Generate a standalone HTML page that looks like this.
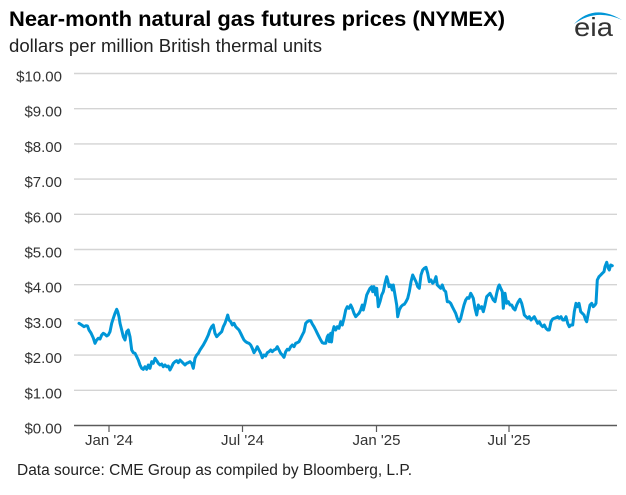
<!DOCTYPE html>
<html>
<head>
<meta charset="utf-8">
<style>
  html, body { margin: 0; padding: 0; background: #ffffff; }
  body { width: 626px; height: 495px; overflow: hidden; }
  svg { display: block; font-family: "Liberation Sans", Arial, sans-serif; }
</style>
</head>
<body>
<svg width="626" height="495" viewBox="0 0 626 495" xmlns="http://www.w3.org/2000/svg">
  <rect x="0" y="0" width="626" height="495" fill="#ffffff"/>

  <!-- Title -->
  <text x="9" y="26" font-size="21" font-weight="bold" fill="#000" textLength="496" lengthAdjust="spacingAndGlyphs">Near-month natural gas futures prices (NYMEX)</text>
  <text x="9" y="52" font-size="18.5" fill="#222" textLength="313" lengthAdjust="spacingAndGlyphs">dollars per million British thermal units</text>

  <!-- eia logo -->
  <path d="M574,24 Q594,3 622,20 Q596,8 574,24 Z" fill="#0096d7"/>
  <text x="574" y="36" font-size="26" fill="#333" textLength="39" lengthAdjust="spacingAndGlyphs">eia</text>

  <!-- Gridlines -->
  <g stroke="#d4d4d4" stroke-width="1.4">
    <line x1="74" y1="73.5" x2="617" y2="73.5"/>
    <line x1="74" y1="108.7" x2="617" y2="108.7"/>
    <line x1="74" y1="143.9" x2="617" y2="143.9"/>
    <line x1="74" y1="179.1" x2="617" y2="179.1"/>
    <line x1="74" y1="214.3" x2="617" y2="214.3"/>
    <line x1="74" y1="249.5" x2="617" y2="249.5"/>
    <line x1="74" y1="284.7" x2="617" y2="284.7"/>
    <line x1="74" y1="319.9" x2="617" y2="319.9"/>
    <line x1="74" y1="355.1" x2="617" y2="355.1"/>
    <line x1="74" y1="390.3" x2="617" y2="390.3"/>
  </g>
  <!-- Baseline -->
  <line x1="74" y1="425.5" x2="617" y2="425.5" stroke="#5a5a5a" stroke-width="1.5"/>

  <!-- X ticks -->
  <g stroke="#5a5a5a" stroke-width="1.2">
    <line x1="109" y1="425.5" x2="109" y2="432"/>
    <line x1="242.5" y1="425.5" x2="242.5" y2="432"/>
    <line x1="376.5" y1="425.5" x2="376.5" y2="432"/>
    <line x1="509" y1="425.5" x2="509" y2="432"/>
  </g>

  <!-- Y labels -->
  <g font-size="15" fill="#333" text-anchor="end">
    <text x="62" y="81.5">$10.00</text>
    <text x="62" y="116.7">$9.00</text>
    <text x="62" y="151.9">$8.00</text>
    <text x="62" y="187.1">$7.00</text>
    <text x="62" y="222.3">$6.00</text>
    <text x="62" y="257.5">$5.00</text>
    <text x="62" y="292.7">$4.00</text>
    <text x="62" y="327.9">$3.00</text>
    <text x="62" y="363.1">$2.00</text>
    <text x="62" y="398.3">$1.00</text>
    <text x="62" y="433.5">$0.00</text>
  </g>

  <!-- X labels -->
  <g font-size="15" fill="#333" text-anchor="middle">
    <text x="109" y="445">Jan '24</text>
    <text x="242.5" y="445">Jul '24</text>
    <text x="376.5" y="445">Jan '25</text>
    <text x="509" y="445">Jul '25</text>
  </g>

  <!-- Series -->
  <polyline fill="none" stroke="#0096d7" stroke-width="3" stroke-linejoin="round" stroke-linecap="round" points="
79,323.3 81.7,325 84,326.7 86,325.7 87.5,326 89,330 91,333 93.3,338 95,343.3 96.7,340 98.3,338.3 100,339 101.7,335 103.3,333.3 105,334.3 106.7,336 108.3,335 110,331.7 111.7,323.3 113.3,318.3 115,313.3 116.7,309.3 117.7,311.7 119,316.7 120,323.3 121.7,330 123.3,336.7 125,340 126.7,331.7 128.3,330 130,336.7 131.7,350 133.3,352.7 135,353.3 136.7,356.7 138.3,360 140,365 141.7,368.3 143.3,369.3 145,366.7 146.7,369.3 148.3,365 150,368.3 151.7,361.7 153.3,363.3 155,358.3 156.7,360.7 158.3,363.3 160,365 161.7,364 163.3,366.7 165,365 166.7,366.7 168.3,366 170,370 171.7,366.7 173.3,363.3 175,361.7 176.7,360.7 178.3,362.7 180,360 181.7,361.7 183.3,363.3 185,365 186.7,363.3 188.3,362.7 190,361.7 191.7,363.3 193.3,368.3 195,358.3 196.7,355 198.3,353.3 200,350
203.3,345 206,340 208.3,335 210,330 211.7,326.7 213.3,325 215,333.3 216.7,336.7 218.3,335 220,333.3 221.7,331.7 223.3,326.7 225,323.3 226.7,318.3 227.7,315 229,320 230.7,321.7 232.3,325 234,323.3 235.7,326.7 237.3,328.3 239,330 240.7,333.3 242.3,336.7 244,340 245.7,341.7 247.3,342.7 249,343.3 250.7,345 252.3,348.3 254,352.7 255.7,350 257.3,346.7 259,350 260.7,353.3 262.3,357.7 264,355 265.7,356 267.3,352.7 269,351.7 270.7,350 272.3,351.7 274,350 275.7,349.3 277.3,346.7 279,350 280.7,353.3 282.3,355 284,357.3 285.7,351.7 287.3,349.3 289,350 290.7,346.7 292.3,345 294,346.7 295.7,343.3 297.3,342.7 299,341.7 300.7,338.3 302.3,335 304,331.7 305.7,323.3 307.3,321.7 309,320.7 310.7,320.7 312.3,324 314,326.7 315.7,330 317.3,333.3 319,336.7 320.7,340 322.3,342.7 324,343.3 325.7,343.3 327.3,336.7 328.3,335 329.3,341.7 330.7,333.3 331.5,342 332.7,331.7
334,326.7 335.7,330 337.3,326.7 339,328.3 340.7,321.7 342.3,325 344,318.3 345.7,310 347.3,306.7 349,308.3 350.7,305 352.3,308.3 354,313.3 355.7,316.7 357.3,315 359,313.3 360.7,310 362.3,305 363.3,310 365,303.3 366.7,295 368.3,291.7 370,288.3 371.7,286.7 372.7,291.7 374,286.7 375.7,295 376.7,288.3 378.3,306.7 380,301.7 381.7,295 383.3,291.7 385,283.3 386.7,276.7 387.7,280 389,286.7 390.7,285 392.3,290 393.3,285 395,295 396.7,305 397.7,316.7 399.3,310 401,306.7 402.7,305 404.3,304.3 406,301.7 407.7,298.3 409.3,291.7 411,281.7 412.7,275 414.3,278.3 416,281.7 417.7,286.7 419.3,288.3 421,275 422.7,270 424.3,268.3 426,267.3 427.7,273.3 429.3,281.7 431,280 432.7,283.3 434.3,281.7 436,276.7 437.3,285 439,286.7 440.7,288.3 442.3,285 444,290 445.7,291.7 447.3,301.7 449,301.7 450.7,303.3 452.3,306.7 454,310 455.7,313.3 457.3,318.3 459,321.7 460.7,318.3 462.3,311.7 464,305 465.7,300 467.3,297.7 469,298.3 470.7,293.3
471.7,295 473.3,298.3 475,308.3 476.7,315 478.3,305 480,308.3 481.7,306.7 483.3,311.7 485,305 486.7,296.7 488.3,295 490,293.3 491.7,296.7 493.3,300 495,301.7 496.7,293.3 498.3,286.7 499.3,285 500.7,288.3 502.3,291.7 503.3,308.3 505,293.3 506.7,303.3 508.3,301.7 510,305 511.7,305 513.3,308.3 515,310 516.7,305 518.3,301.7 520,299.3 521.7,303.3 523.3,310 524.3,315 526,316.7 527.7,318.3 529.3,316.7 531,320 532.7,318.3 534.3,316.7 536,320 537.7,323.3 539.3,321.7 541,325 542.7,326.7 544.3,325 546,328.3 547.7,330 549.3,330 551,321.7 552.7,319 554.3,318.3 556,317.7 557.7,316.7 559.3,318.3 561,316.7 562.7,320 564.3,320 566,316.7 567.7,323.3 569.3,326.7 571,325 572.7,325 574.3,311.7 576,303.3 577.3,306.7 579,303.3 580.7,311.7 582.3,313.3 584,315 585.7,320 586.7,321.7 588.3,313.3 590,305 591.7,303.3 593.3,306.7 595,305 596,303.3 597.3,280 599,276.7 600.7,275 602.3,273.3 604,271.7 605,266.7 606.7,262.3 608.3,268.3 609.3,270 610.7,265 612.3,265.7"/>

  <!-- Source -->
  <text x="17" y="475" font-size="15.5" fill="#222" textLength="395" lengthAdjust="spacingAndGlyphs">Data source: CME Group as compiled by Bloomberg, L.P.</text>
</svg>
</body>
</html>
